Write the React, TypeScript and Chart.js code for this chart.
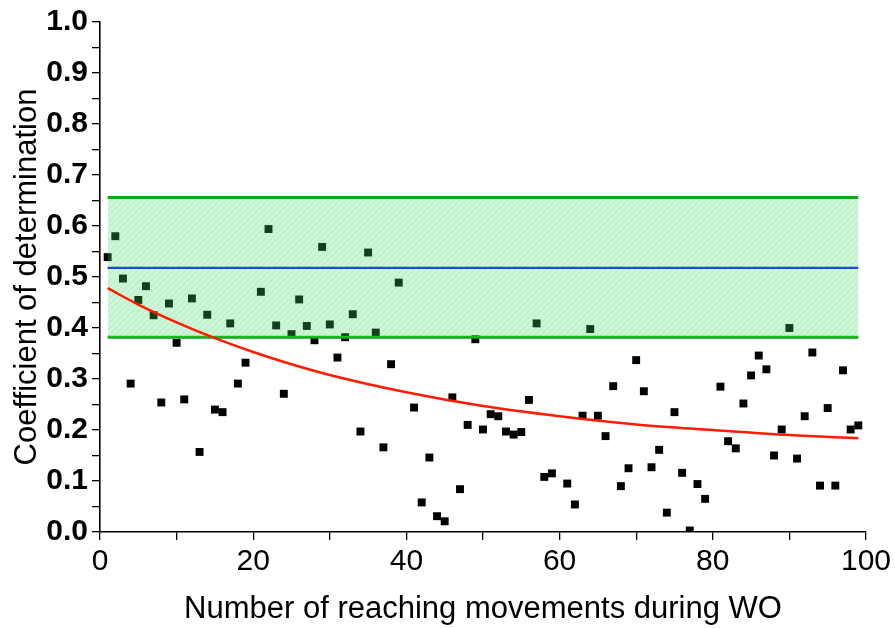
import React, { useEffect, useRef } from 'react';
import { Chart, registerables } from 'chart.js';

Chart.register(...registerables);

// Scatter: number of reaching movements vs coefficient of determination
const trialX = [
  1, 2, 3, 4, 5, 6, 7, 8, 9, 10, 11, 12, 13, 14, 15, 16, 17, 18, 19,
  21, 22, 23, 24, 25, 26, 27, 28, 29, 30, 31, 32, 33, 34, 35, 36, 37, 38, 39,
  41, 42, 43, 44, 45, 46, 47, 48, 49, 50, 51, 52, 53, 54, 55, 56, 57, 58, 59,
  61, 62, 63, 64, 65, 66, 67, 68, 69, 70, 71, 72, 73, 74, 75, 76, 77, 78, 79,
  81, 82, 83, 84, 85, 86, 87, 88, 89, 90, 91, 92, 93, 94, 95, 96, 97, 98, 99,
];
const r2Values = [
  0.539, 0.58, 0.497, 0.291, 0.455, 0.482, 0.425, 0.254, 0.448, 0.371, 0.26, 0.458, 0.157, 0.426, 0.24, 0.235, 0.409, 0.291, 0.332,
  0.471, 0.594, 0.405, 0.271, 0.388, 0.456, 0.404, 0.376, 0.559, 0.407, 0.342, 0.382, 0.427, 0.197, 0.548, 0.391, 0.166, 0.329, 0.489,
  0.244, 0.058, 0.146, 0.031, 0.021, 0.264, 0.084, 0.21, 0.378, 0.201, 0.231, 0.227, 0.197, 0.191, 0.196, 0.259, 0.409, 0.108, 0.115,
  0.095, 0.054, 0.228, 0.398, 0.228, 0.188, 0.286, 0.09, 0.125, 0.337, 0.276, 0.127, 0.161, 0.038, 0.235, 0.116, 0.003, 0.094, 0.065,
  0.285, 0.178, 0.164, 0.252, 0.307, 0.346, 0.319, 0.15, 0.201, 0.4, 0.144, 0.227, 0.352, 0.091, 0.243, 0.091, 0.317, 0.201, 0.209,
];

// Fitted decay curve
const fitX = [1, 5, 10, 15, 20, 25, 30, 40, 50, 60, 70, 80, 90, 99];
const fitY = [0.478, 0.446, 0.411, 0.38, 0.353, 0.329, 0.308, 0.274, 0.247, 0.227, 0.211, 0.2, 0.19, 0.184];

// Reference band (range) and its mean
const bandX = [1, 99];
const bandUpper = 0.656;
const bandLower = 0.382;
const bandMean = 0.518;

const yTickStep = 0.05;
const xTickStep = 10;

function makeHatch(): CanvasPattern | string {
  const c = document.createElement('canvas');
  c.width = 6;
  c.height = 6;
  const g = c.getContext('2d');
  if (!g) return 'rgba(70,225,110,0.28)';
  g.fillStyle = 'rgba(70,225,110,0.28)';
  g.fillRect(0, 0, 6, 6);
  g.strokeStyle = 'rgba(0,110,30,0.10)';
  g.lineWidth = 1;
  g.beginPath();
  g.moveTo(0, 6);
  g.lineTo(6, 0);
  g.moveTo(-3, 3);
  g.lineTo(3, -3);
  g.moveTo(3, 9);
  g.lineTo(9, 3);
  g.stroke();
  const p = g.createPattern(c, 'repeat');
  return p || 'rgba(70,225,110,0.28)';
}

export default function App() {
  const ref = useRef<HTMLCanvasElement | null>(null);

  useEffect(() => {
    document.body.style.margin = '0';
    const canvas = ref.current;
    if (!canvas) return;
    const hatch = makeHatch();
    const black = '#000000';
    const sans = '"Liberation Sans", Arial, sans-serif';

    const chart = new Chart(canvas, {
      type: 'scatter',
      data: {
        datasets: [
          {
            label: 'upper',
            type: 'line',
            data: bandX.map((x) => ({ x, y: bandUpper })),
            borderColor: '#10a810',
            borderWidth: 3,
            pointRadius: 0,
            fill: '+1',
            backgroundColor: hatch as any,
            order: 1,
          },
          {
            label: 'lower',
            type: 'line',
            data: bandX.map((x) => ({ x, y: bandLower })),
            borderColor: '#10a810',
            borderWidth: 3,
            pointRadius: 0,
            fill: false,
            order: 1,
          },
          {
            label: 'mean',
            type: 'line',
            data: bandX.map((x) => ({ x, y: bandMean })),
            borderColor: '#1a46e0',
            borderWidth: 2.2,
            pointRadius: 0,
            fill: false,
            order: 0,
          },
          {
            label: 'fit',
            type: 'line',
            data: fitX.map((x, i) => ({ x, y: fitY[i] })),
            borderColor: '#ff1a00',
            borderWidth: 2.5,
            pointRadius: 0,
            fill: false,
            cubicInterpolationMode: 'monotone',
            order: 0,
          },
          {
            label: 'R2',
            data: trialX.map((x, i) => ({ x, y: r2Values[i] })),
            pointStyle: 'rect',
            pointRadius: 5.6,
            pointBackgroundColor: black,
            pointBorderColor: black,
            pointBorderWidth: 0,
            showLine: false,
            order: 3,
          },
        ],
      },
      options: {
        responsive: false,
        animation: false,
        events: [],
        layout: { padding: { top: 22, right: 29, left: 0, bottom: 0 } },
        plugins: {
          legend: { display: false },
          tooltip: { enabled: false },
        },
        scales: {
          x: {
            type: 'linear',
            min: 0,
            max: 100,
            afterFit: (s: any) => {
              s.height = 96;
            },
            border: { display: true, color: black, width: 1.6 },
            grid: { display: true, drawOnChartArea: false, drawTicks: true, tickLength: 8, color: black, lineWidth: 1.3 },
            ticks: {
              stepSize: xTickStep,
              autoSkip: false,
              maxRotation: 0,
              color: black,
              padding: 4,
              font: { family: sans, size: 30 },
              callback: (v: any) => (Math.round(Number(v)) % 20 === 0 ? String(Math.round(Number(v))) : ''),
            },
            title: {
              display: true,
              text: 'Number of reaching movements during WO',
              color: black,
              font: { family: sans, size: 31 },
              padding: { top: 4, bottom: 0 },
            },
          },
          y: {
            type: 'linear',
            min: 0,
            max: 1,
            afterFit: (s: any) => {
              s.width = 100;
            },
            border: { display: true, color: black, width: 1.6 },
            grid: { display: true, drawOnChartArea: false, drawTicks: true, tickLength: 8, color: black, lineWidth: 1.3 },
            ticks: {
              stepSize: yTickStep,
              autoSkip: false,
              color: black,
              padding: 4,
              font: { family: sans, size: 30, weight: 'bold' },
              callback: (v: any) => {
                const k = Math.round(Number(v) / yTickStep);
                return k % 2 === 0 ? (k * yTickStep).toFixed(1) : '';
              },
            },
            title: {
              display: true,
              text: 'Coefficient of determination',
              color: black,
              font: { family: sans, size: 31 },
              padding: { top: 9, bottom: 0 },
            },
          },
        },
      } as any,
    });
    return () => chart.destroy();
  }, []);

  return (
    <div style={{ position: 'fixed', left: 0, top: 0, width: 895, height: 628, background: '#fff' }}>
      <canvas ref={ref} width={895} height={628} style={{ width: 895, height: 628, display: 'block' }} />
    </div>
  );
}
